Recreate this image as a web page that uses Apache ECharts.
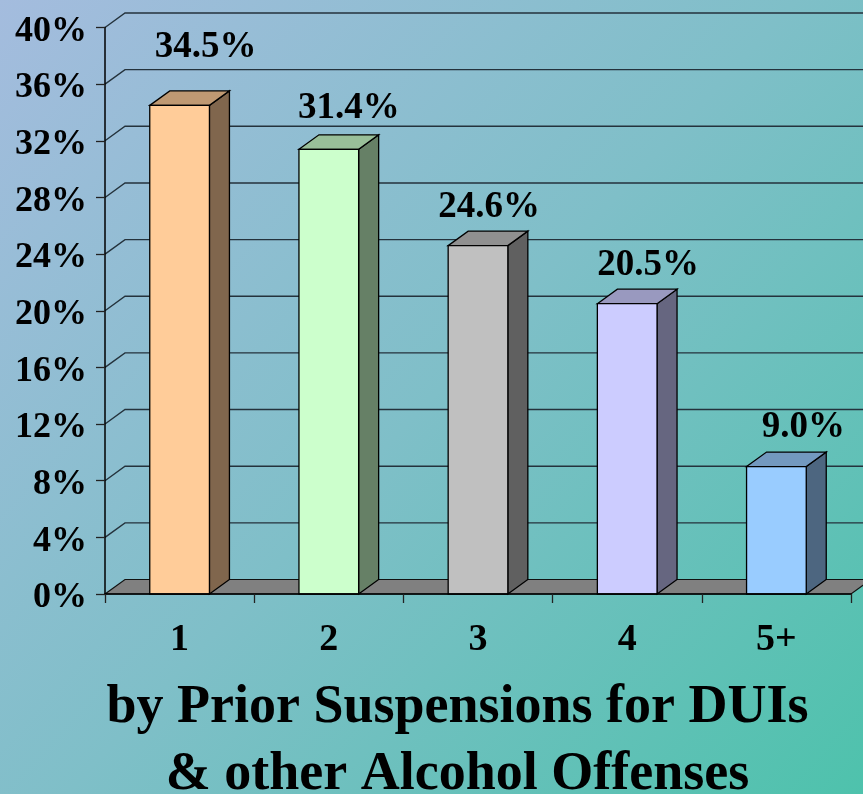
<!DOCTYPE html>
<html><head><meta charset="utf-8">
<style>html,body{margin:0;padding:0;background:#80bfc8}#c{width:863px;height:794px}</style>
<script src="https://cdn.jsdelivr.net/npm/echarts@6/dist/echarts.min.js"></script>
</head><body><div id="c"></div>
<script>
const categories = ['1','2','3','4','5+'];
const values = [34.5,31.4,24.6,20.5,9.0];
const faceColors = ['#FFCC99','#CCFFCC','#C0C0C0','#CCCCFF','#99CCFF'];
const topColors = ['#BF9973','#99BF99','#909090','#9999BF','#7399BF'];
const sideColors = ['#80664D','#668066','#606060','#666680','#4D6680'];
const gridValues = [4,8,12,16,20,24,28,32,36,40];
const DX = 20, DY = 14.5;
const labelNudge = [[26,-58],[20,-41],[11,-38],[21,-38],[27,-39]];
const serif = '"Liberation Serif","Times New Roman",serif';
const chart = echarts.init(document.getElementById('c'), null, {renderer:'canvas'});
chart.setOption({
  animation:false,
  backgroundColor:new echarts.graphic.LinearGradient(0,0,1,1,[
    {offset:0,color:'#A4BCDE'},{offset:0.5,color:'#7FBFC8'},{offset:1,color:'#4EC2AC'}]),
  title:{text:'by Prior Suspensions for DUIs\n& other Alcohol Offenses',left:452.5,top:670,textAlign:'center',
    textStyle:{fontFamily:serif,fontWeight:'bold',fontSize:54,lineHeight:67,color:'#000'}},
  grid:{left:105,top:27.5,width:746,height:566.5},
  xAxis:{type:'category',data:categories,z:5,
    axisLine:{show:true,lineStyle:{color:'#000',width:1.5}},
    axisTick:{show:true,alignWithLabel:false,length:9,lineStyle:{color:'#222',width:1.3}},
    axisLabel:{fontFamily:serif,fontWeight:'bold',fontSize:38,color:'#000',margin:27}},
  yAxis:{type:'value',min:0,max:40,interval:4,z:5,
    axisLine:{show:true,lineStyle:{color:'#000',width:1.5}},
    axisTick:{show:true,length:9,lineStyle:{color:'#222',width:1.3}},
    splitLine:{show:false},
    axisLabel:{fontFamily:serif,fontWeight:'bold',fontSize:36,color:'#000',margin:18,verticalAlign:'top',lineHeight:8,formatter:'{value}%'}},
  series:[
    {type:'custom',z:1,silent:true,clip:false,coordinateSystem:'cartesian2d',data:[0],encode:{x:0,y:0},
     renderItem(p,api){
       const a=api.coord([0,0]);const r=p.coordSys.x+p.coordSys.width;const y=a[1];const x=p.coordSys.x;
       return {type:'polygon',shape:{points:[[x,y],[x+DX,y-DY],[r+DX,y-DY],[r,y]]},
         style:{fill:'#808080',stroke:'#111',lineWidth:1.2}};
     }},
    {type:'custom',z:1,silent:true,clip:false,coordinateSystem:'cartesian2d',data:gridValues.map(v=>[0,v]),encode:{x:0,y:1},
     renderItem(p,api){
       const y=api.coord([0,api.value(1)])[1];const x=p.coordSys.x;const r=p.coordSys.x+p.coordSys.width;
       return {type:'polyline',shape:{points:[[x,y],[x+DX,y-DY],[r+DX,y-DY]]},
         style:{fill:'none',stroke:'#24323c',lineWidth:1.4}};
     }},
    {type:'custom',z:3,silent:true,clip:false,coordinateSystem:'cartesian2d',data:values.map((v,i)=>[i,v]),encode:{x:0,y:1},
     renderItem(p,api){
       const i=api.value(0),v=api.value(1);
       const t=api.coord([i,v]),b=api.coord([i,0]);
       const w=api.size([1,0])[0]*0.4;
       const l=t[0]-w/2,r=t[0]+w/2,yt=t[1],yb=b[1];
       const st={stroke:'#000',lineWidth:1.3,lineJoin:'miter'};
       const n=labelNudge[i];
       return {type:'group',children:[
         {type:'polygon',shape:{points:[[r,yt],[r+DX,yt-DY],[r+DX,yb-DY],[r,yb]]},style:{fill:sideColors[i],...st}},
         {type:'polygon',shape:{points:[[l,yt],[l+DX,yt-DY],[r+DX,yt-DY],[r,yt]]},style:{fill:topColors[i],...st}},
         {type:'rect',shape:{x:l,y:yt,width:w,height:yb-yt},style:{fill:faceColors[i],...st}},
         {type:'text',x:t[0]+n[0],y:yt+n[1],style:{text:v.toFixed(1)+'%',fill:'#000',align:'center',verticalAlign:'middle',
           font:'bold 37px '+serif}}
       ]};
     }}
  ]
});
</script></body></html>
